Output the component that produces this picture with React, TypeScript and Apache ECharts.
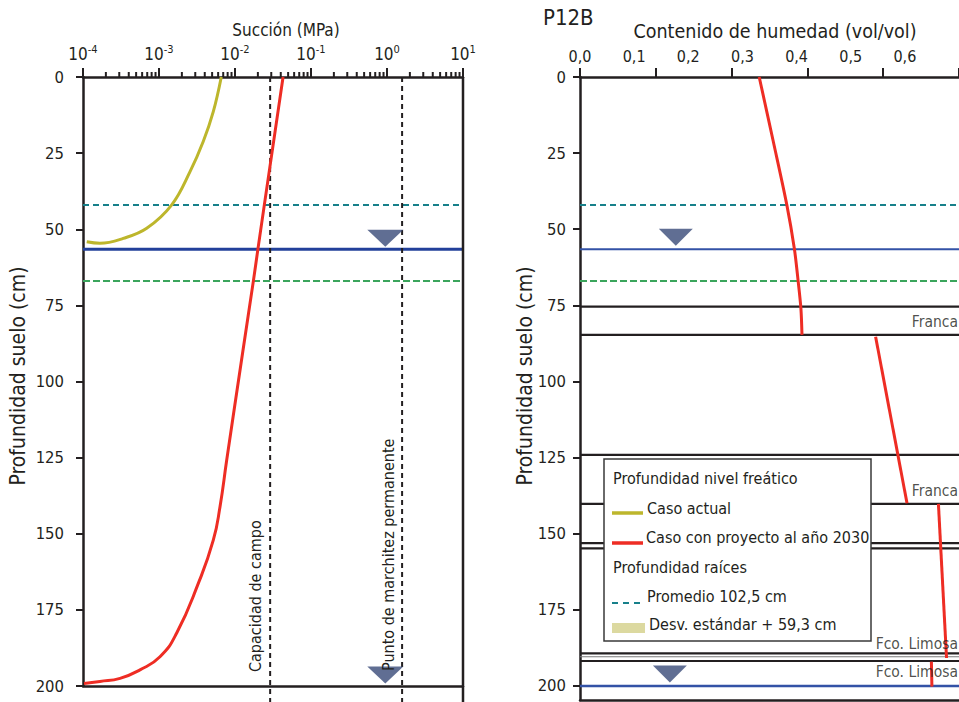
import React, { useEffect, useRef } from "react";
import * as echarts from "echarts";

// ---------- Data ----------
// Left panel: suction (MPa) vs depth (cm)
const actualSuction = [0.0066, 0.00518, 0.00382, 0.00256, 0.00147, 0.000689, 0.000339, 0.000167, 0.000112];
const actualDepth = [0, 11.4, 21.2, 31.1, 42, 49.7, 53, 54.6, 54.1];
const project2030Suction = [0.0429, 0.0286, 0.02, 0.0174, 0.0127, 0.00778, 0.00635, 0.00518, 0.00329, 0.00171, 0.00103, 0.000562, 0.000307, 0.000167, 0.000103];
const project2030Depth = [0, 30, 56.6, 67.2, 90, 125.8, 141.1, 152.1, 166.3, 182.6, 190.4, 194.7, 197.5, 198.5, 199.2];
const fieldCapacity = 0.029;
const wiltingPoint = 1.58;
const suctionMin = 1e-4;
const suctionMax = 10;
const minorDecades = [-4, -3, -2, -1, 0];
const minorMultipliers = [2, 3, 4, 5, 6, 7, 8, 9];

// Root depth lines and water tables
const rootMeanDepth = 42;
const rootStdDepth = 67;
const waterTableActual = 56.6;
const waterTable2030 = 200;
const leftMarkerSuction = 0.95;
const rightMarkerMoisture = [0.177, 0.166];

// Right panel: moisture content (vol/vol) vs depth
const moistSeg1Value = [0.331, 0.357, 0.382, 0.396, 0.403, 0.408, 0.41];
const moistSeg1Depth = [0, 21.2, 42, 56.5, 67.2, 76, 84.7];
const moistSeg2Value = [0.546, 0.604];
const moistSeg2Depth = [85.3, 140];
const moistSeg3Value = [0.662, 0.677];
const moistSeg3Depth = [140.2, 190.8];
const moistSeg4Value = [0.649, 0.65];
const moistSeg4Depth = [192, 200.2];

const layerDepths = [75.4, 84.7, 124.1, 140.2, 153.1, 154.8, 189.3, 190.4, 191.8];
const layerThin = [false, false, false, false, false, false, false, true, false];
const layerLabels = ["Franca", "Franca", "Fco. Limosa", "Fco. Limosa"];
const layerLabelDepths = [80.5, 136, 186.2, 195.4];

const depthTicks = [0, 25, 50, 75, 100, 125, 150, 175, 200];
const moistureMax = 0.7;
const rightDepthMax = 204.6;
const depthExtend = 205.3;

const FONT = "'Liberation Sans Narrow', 'DejaVu Sans Condensed', 'Liberation Sans', sans-serif";
const INK = "#231f20";
const YELLOW = "#bdb62c";
const RED = "#ee2d24";
const TEAL = "#17808a";
const GREEN = "#3ba55c";
const BLUE = "#22409a";
const TRI = "#384a78";

const zip = (a: number[], b: number[]) => a.map((v, i) => [v, b[i]]);

export default function App() {
  const ref = useRef<HTMLDivElement>(null);
  useEffect(() => {
    if (!ref.current) return;
    const chart = echarts.init(ref.current, undefined, { renderer: "svg" });

    const minorTicks: number[][] = [];
    minorDecades.forEach((d) => minorMultipliers.forEach((m) => minorTicks.push([m * Math.pow(10, d), 0])));

    const hLine = (xi: number, yi: number, x0: number, x1: number, depth: number, color: string, width: number, type: any = "solid") => ({
      type: "line",
      xAxisIndex: xi,
      yAxisIndex: yi,
      data: [[x0, depth], [x1, depth]],
      symbol: "none",
      silent: true,
      lineStyle: { color, width, type },
      z: 3,
    });
    const vLine = (x: number, color: string, width: number, type: any = "solid") => ({
      type: "line",
      xAxisIndex: 0,
      yAxisIndex: 0,
      data: [[x, 0], [x, depthExtend]],
      symbol: "none",
      clip: false,
      silent: true,
      lineStyle: { color, width, type },
      z: 4,
    });

    const series: any[] = [
      // left panel
      hLine(0, 0, suctionMin, suctionMax, rootMeanDepth, TEAL, 2, [6, 4]),
      hLine(0, 0, suctionMin, suctionMax, rootStdDepth, GREEN, 2, [7, 3]),
      hLine(0, 0, suctionMin, suctionMax, waterTableActual, BLUE, 3),
      vLine(fieldCapacity, INK, 2, [5, 4]),
      vLine(wiltingPoint, INK, 2, [5, 4]),
      vLine(suctionMax, INK, 2.5),
      {
        type: "line",
        name: "Caso actual",
        xAxisIndex: 0,
        yAxisIndex: 0,
        data: zip(actualSuction, actualDepth),
        smooth: 0.4,
        symbol: "none",
        lineStyle: { color: YELLOW, width: 3 },
        z: 5,
      },
      {
        type: "line",
        name: "Caso con proyecto al año 2030",
        xAxisIndex: 0,
        yAxisIndex: 0,
        data: zip(project2030Suction, project2030Depth),
        smooth: 0.5,
        symbol: "none",
        lineStyle: { color: RED, width: 3 },
        z: 5,
      },
      {
        type: "scatter",
        xAxisIndex: 0,
        yAxisIndex: 0,
        data: [[leftMarkerSuction, waterTableActual], [leftMarkerSuction, waterTable2030]],
        symbol: "triangle",
        symbolRotate: 180,
        symbolSize: [36, 17],
        symbolOffset: [0, -11],
        itemStyle: { color: TRI },
        clip: false,
        silent: true,
        z: 6,
      },
      {
        type: "custom",
        xAxisIndex: 0,
        yAxisIndex: 0,
        data: minorTicks,
        clip: false,
        silent: true,
        renderItem: (params: any, api: any) => {
          const p = api.coord([api.value(0), api.value(1)]);
          return {
            type: "line",
            shape: { x1: p[0], y1: p[1], x2: p[0], y2: p[1] - 5 },
            style: { stroke: INK, lineWidth: 2 },
          };
        },
        z: 6,
      },
      // right panel
      hLine(2, 1, 0, moistureMax, rootMeanDepth, TEAL, 2, [6, 4]),
      hLine(2, 1, 0, moistureMax, rootStdDepth, GREEN, 2, [7, 3]),
      hLine(2, 1, 0, moistureMax, waterTableActual, "#3352a6", 2),
      hLine(2, 1, 0, moistureMax, waterTable2030, "#3352a6", 2.5),
      ...layerDepths.map((d, i) =>
        hLine(2, 1, 0, moistureMax, d, layerThin[i] ? "#7a7a7a" : INK, layerThin[i] ? 1.2 : 2.2)
      ),
      ...[
        zip(moistSeg1Value, moistSeg1Depth),
        zip(moistSeg2Value, moistSeg2Depth),
        zip(moistSeg3Value, moistSeg3Depth),
        zip(moistSeg4Value, moistSeg4Depth),
      ].map((seg) => ({
        type: "line",
        xAxisIndex: 2,
        yAxisIndex: 1,
        data: seg,
        smooth: 0.3,
        symbol: "none",
        lineStyle: { color: RED, width: 3 },
        z: 5,
      })),
      {
        type: "scatter",
        xAxisIndex: 2,
        yAxisIndex: 1,
        data: [[rightMarkerMoisture[0], waterTableActual], [rightMarkerMoisture[1], waterTable2030]],
        symbol: "triangle",
        symbolRotate: 180,
        symbolSize: [34, 17],
        symbolOffset: [0, -12],
        itemStyle: { color: TRI },
        silent: true,
        z: 6,
      },
      {
        type: "scatter",
        xAxisIndex: 2,
        yAxisIndex: 1,
        data: layerLabels.map((t, i) => ({ value: [moistureMax, layerLabelDepths[i]], name: t })),
        symbolSize: 0,
        silent: true,
        label: {
          show: true,
          position: "left",
          distance: 1,
          formatter: (p: any) => p.name,
          fontFamily: FONT,
          fontSize: 15.5,
          color: INK,
        },
        z: 7,
      },
    ];

    const axisLine = { show: true, lineStyle: { color: INK, width: 2.5 } };
    const txt = (text: string, size: number, extra: any = {}) => ({
      text,
      fontFamily: FONT,
      fontSize: size,
      fill: INK,
      ...extra,
    });
    const Z = 100;
    const LF = 16;
    const option: any = {
      animation: false,
      backgroundColor: "#ffffff",
      textStyle: { fontFamily: FONT, color: INK },
      grid: [
        { left: 83, top: 77, width: 380, height: 609 },
        { left: 580, top: 77, width: 379, height: 623 },
      ],
      xAxis: [
        {
          gridIndex: 0,
          type: "log",
          logBase: 10,
          min: suctionMin,
          max: suctionMax,
          position: "top",
          axisLine,
          axisTick: { show: true, inside: false, length: 9, lineStyle: { color: INK, width: 2 } },
          splitLine: { show: false },
          axisLabel: {
            margin: 13,
            formatter: (v: number) => `{b|10}{s|${Math.round(Math.log10(v))}}`,
            rich: {
              b: { fontFamily: FONT, fontSize: 17, color: INK, lineHeight: 20 },
              s: { fontFamily: FONT, fontSize: 11, color: INK, verticalAlign: "top", lineHeight: 20, padding: [0, 0, 9, 0] },
            },
          },
        },
        {
          gridIndex: 0,
          type: "value",
          position: "bottom",
          min: 0,
          max: 1,
          axisLine,
          axisTick: { show: false },
          axisLabel: { show: false },
          splitLine: { show: false },
        },
        {
          gridIndex: 1,
          type: "value",
          position: "top",
          min: 0,
          max: moistureMax,
          interval: 0.1,
          axisLine,
          axisTick: { show: false },
          splitLine: { show: false },
          axisLabel: {
            margin: 13,
            showMaxLabel: false,
            fontFamily: FONT,
            fontSize: 16,
            color: INK,
            formatter: (v: number) => v.toFixed(1).replace(".", ","),
          },
        },
        {
          gridIndex: 1,
          type: "value",
          position: "top",
          min: 0,
          max: moistureMax,
          interval: 0.14,
          axisLine: { show: false },
          axisTick: { show: true, inside: false, length: 9, lineStyle: { color: INK, width: 2 } },
          axisLabel: { show: false },
          splitLine: { show: false },
        },
        {
          gridIndex: 1,
          type: "value",
          position: "bottom",
          min: 0,
          max: 1,
          axisLine,
          axisTick: { show: false },
          axisLabel: { show: false },
          splitLine: { show: false },
        },
      ],
      yAxis: [
        {
          gridIndex: 0,
          type: "value",
          inverse: true,
          min: 0,
          max: 200,
          interval: 25,
          axisLine,
          axisTick: { show: true, length: 7, lineStyle: { color: INK, width: 2 } },
          splitLine: { show: false },
          axisLabel: { margin: 19, fontFamily: FONT, fontSize: 16.5, color: INK },
        },
        {
          gridIndex: 1,
          type: "value",
          inverse: true,
          min: 0,
          max: rightDepthMax,
          axisLine,
          axisTick: { show: true, length: 7, customValues: depthTicks, lineStyle: { color: INK, width: 2 } },
          splitLine: { show: false },
          axisLabel: { margin: 14, customValues: depthTicks, fontFamily: FONT, fontSize: 16.5, color: INK },
        },
      ],
      series,
      graphic: [
        { type: "text", x: 543, y: 6, z: Z, style: txt("P12B", 22) },
        {
          type: "text",
          x: 286,
          y: 30,
          z: Z,
          style: txt("Succión (MPa)", 17, { align: "center", verticalAlign: "middle" }),
        },
        {
          type: "text",
          x: 775,
          y: 31,
          z: Z,
          style: txt("Contenido de humedad (vol/vol)", 19.5, { align: "center", verticalAlign: "middle" }),
        },
        {
          type: "text",
          x: 18,
          y: 376,
          rotation: Math.PI / 2,
          z: Z,
          style: txt("Profundidad suelo (cm)", 21, { align: "center", verticalAlign: "middle" }),
        },
        {
          type: "text",
          x: 525,
          y: 376,
          rotation: Math.PI / 2,
          z: Z,
          style: txt("Profundidad suelo (cm)", 21, { align: "center", verticalAlign: "middle" }),
        },
        {
          type: "text",
          x: 255,
          y: 672,
          rotation: Math.PI / 2,
          z: Z,
          style: txt("Capacidad de campo", 16, { align: "left", verticalAlign: "middle" }),
        },
        {
          type: "text",
          x: 388,
          y: 671,
          rotation: Math.PI / 2,
          z: Z,
          style: txt("Punto de marchitez permanente", 16, { align: "left", verticalAlign: "middle" }),
        },
        { type: "rect", z: Z, shape: { x: 604, y: 459, width: 267, height: 182 }, style: { fill: "#ffffff", stroke: "#3a3a3a", lineWidth: 1.5 } },
        { type: "text", z: Z + 1, x: 613, y: 478, style: txt("Profundidad nivel freático", LF, { verticalAlign: "middle" }) },
        { type: "line", z: Z + 1, shape: { x1: 612, y1: 513, x2: 643, y2: 513 }, style: { stroke: YELLOW, lineWidth: 3.5 } },
        { type: "text", z: Z + 1, x: 647, y: 508, style: txt("Caso actual", LF, { verticalAlign: "middle" }) },
        { type: "line", z: Z + 1, shape: { x1: 612, y1: 543, x2: 643, y2: 543 }, style: { stroke: RED, lineWidth: 3.5 } },
        { type: "text", z: Z + 1, x: 646, y: 537, style: txt("Caso con proyecto al año 2030", LF, { verticalAlign: "middle" }) },
        { type: "text", z: Z + 1, x: 613, y: 567, style: txt("Profundidad raíces", LF, { verticalAlign: "middle" }) },
        { type: "line", z: Z + 1, shape: { x1: 612, y1: 603, x2: 643, y2: 603 }, style: { stroke: TEAL, lineWidth: 2, lineDash: [6, 5] } },
        { type: "text", z: Z + 1, x: 647, y: 596, style: txt("Promedio 102,5 cm", LF, { verticalAlign: "middle" }) },
        { type: "rect", z: Z + 1, shape: { x: 612, y: 623, width: 33, height: 10 }, style: { fill: "#dcd9a0" } },
        { type: "text", z: Z + 1, x: 649, y: 624, style: txt("Desv. estándar + 59,3 cm", LF, { verticalAlign: "middle" }) },
      ],
    };
    chart.setOption(option);
    return () => chart.dispose();
  }, []);
  return <div ref={ref} style={{ width: 959, height: 702, position: "absolute", left: 0, top: 0 }} />;
}
